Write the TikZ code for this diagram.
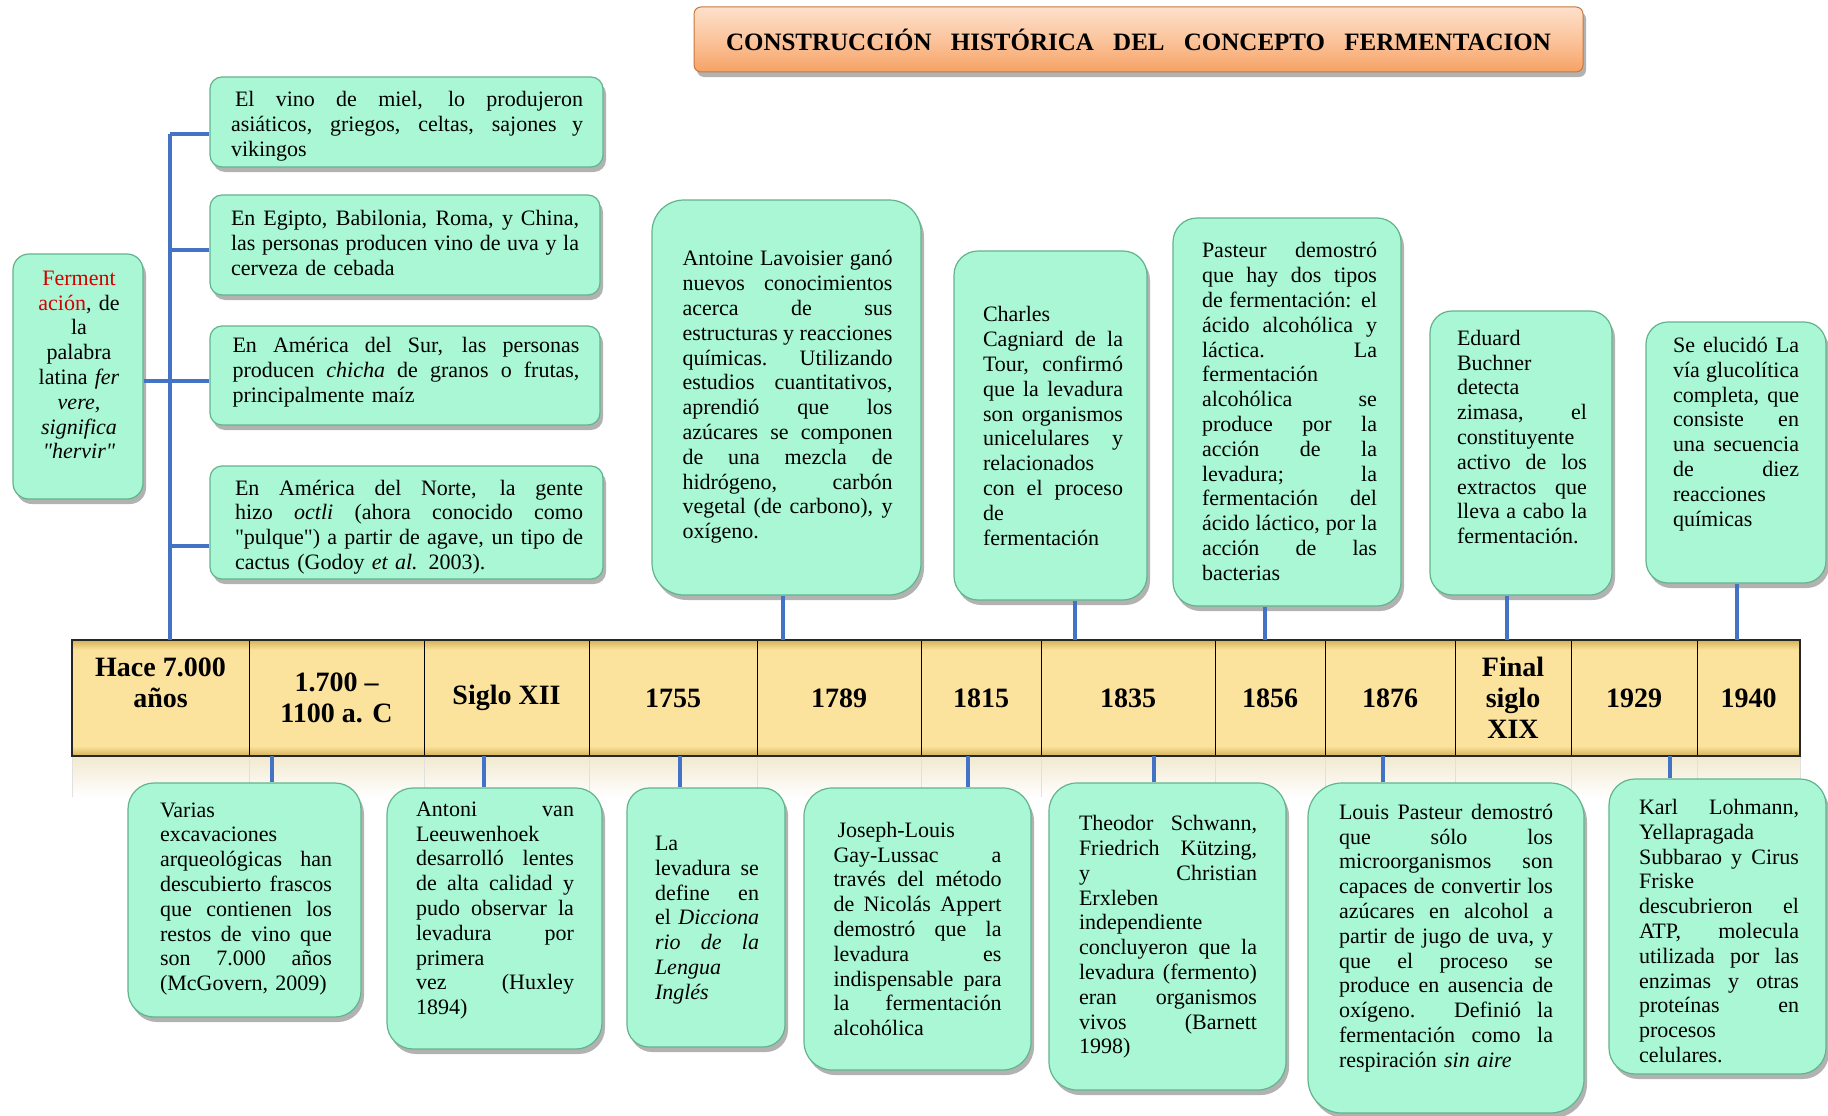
\documentclass[tikz,border=0pt]{standalone}
\usepackage{fontspec}
\setmainfont{Liberation Serif}
\usetikzlibrary{shadows}
\definecolor{mint}{HTML}{A9F7D5}
\definecolor{mintdk}{HTML}{62B48D}
\definecolor{conblue}{HTML}{4472C4}
\definecolor{gold}{HTML}{FCE39D}
\definecolor{golddk}{HTML}{D8B65E}
\definecolor{fred}{HTML}{D40000}
\definecolor{peachlt}{HTML}{FDE0CB}
\definecolor{peachmd}{HTML}{FBC49C}
\definecolor{peachdk}{HTML}{F6A264}
\definecolor{orgdk}{HTML}{C9773C}
\newlength\jw
\newcommand\J[1]{{\spaceskip=0pt\xspaceskip=0pt\makebox[\jw][s]{#1}}}
\begin{document}
\begin{tikzpicture}[x=1pt,y=-1pt,
  box/.style={draw=mintdk, line width=1.2pt, fill=mint, inner sep=0pt,
    drop shadow={shadow xshift=3pt, shadow yshift=-5pt, opacity=0.3, fill=black}},
  txt/.style={inner sep=0pt, align=left, text width=#1,
    execute at begin node={\setlength{\jw}{#1}},
    font=\fontsize{22pt}{24.8pt}\selectfont},
  conn/.style={draw=conblue, line width=4pt},
  cell/.style={draw=black, line width=1pt, inner sep=0pt, minimum height=116pt,
    align=center, font=\bfseries\fontsize{28pt}{31pt}\selectfont},
  titlebox/.style={draw=orgdk, line width=1pt, rounded corners=7pt,
    top color=peachlt, bottom color=peachdk, middle color=peachmd, inner sep=0pt,
    drop shadow={shadow xshift=3pt, shadow yshift=-5pt, opacity=0.3, fill=black}},
]
\useasboundingbox (0,0) rectangle (1828,1116);
\fill[white] (0,0) rectangle (1828,1116);

% title
\node[titlebox, minimum width=889pt, minimum height=65pt] (title) at (1138.5,39.5)
  {\bfseries\fontsize{25pt}{30pt}\selectfont\makebox[825pt][s]{CONSTRUCCIÓN HISTÓRICA DEL CONCEPTO FERMENTACION}};

% reflection under bar
\shade[top color=black!12!gold!40, bottom color=white] (72,757) rectangle (1800,797);
\foreach \xx in {72,249,424,589,757,921,1041,1215,1325,1455,1571,1697,1800}
  \draw[black!12] (\xx,757) -- (\xx,797);

% bar background
\fill[gold] (72,640) rectangle (1800,756);
\shade[top color=golddk, bottom color=gold] (72,641) rectangle (1800,650);
\shade[top color=gold, bottom color=golddk] (72,746) rectangle (1800,755);

% cells
\node[cell, minimum width=177pt] (c1) at (160.5,698) {Hace 7.000\\años\\~};
\node[cell, minimum width=175pt] (c2) at (336.5,698) {1.700 –\\1100 a. C};
\node[cell, minimum width=165pt] (c3) at (506.5,698) {Siglo XII};
\node[cell, minimum width=168pt] (c4) at (673,698) {1755};
\node[cell, minimum width=164pt] (c5) at (839,698) {1789};
\node[cell, minimum width=120pt] (c6) at (981,698) {1815};
\node[cell, minimum width=174pt] (c7) at (1128,698) {1835};
\node[cell, minimum width=110pt] (c8) at (1270,698) {1856};
\node[cell, minimum width=130pt] (c9) at (1390,698) {1876};
\node[cell, minimum width=116pt] (c10) at (1513,698) {Final\\siglo\\XIX};
\node[cell, minimum width=126pt] (c11) at (1634,698) {1929};
\node[cell, minimum width=103pt] (c12) at (1748.5,698) {1940};
\draw[black!85, line width=2.5pt] (72,640) rectangle (1800,756);

% coordinates on the bar
\coordinate (tr0) at (170,640);
\coordinate (j1) at (170,134);
\coordinate (j2) at (170,250);
\coordinate (j3) at (170,381);
\coordinate (j4) at (170,546);
\coordinate (kLav) at (783,640);
\coordinate (kCag) at (1075,640);
\coordinate (kPas) at (1265,640);
\coordinate (kBuc) at (1507,640);
\coordinate (kGlu) at (1737,640);
\coordinate (mVar) at (272,756);
\coordinate (mAnt) at (484,756);
\coordinate (mLev) at (680,756);
\coordinate (mJos) at (968,756);
\coordinate (mThe) at (1154,756);
\coordinate (mLou) at (1383,756);
\coordinate (mKar) at (1670,756);

% ---- top boxes
\node[box, rounded corners=16pt, minimum width=130pt, minimum height=245pt] (ferm) at (78,376.5) {};
\node[box, rounded corners=12pt, minimum width=393pt, minimum height=90pt] (vino) at (406.5,122) {};
\node[box, rounded corners=12pt, minimum width=390pt, minimum height=100pt] (egip) at (405,245) {};
\node[box, rounded corners=12pt, minimum width=390pt, minimum height=99pt] (sur) at (405,375.5) {};
\node[box, rounded corners=12pt, minimum width=393pt, minimum height=113pt] (norte) at (406.5,522.5) {};
\node[box, rounded corners=32pt, minimum width=269pt, minimum height=395pt] (lav) at (786.5,397.5) {};
\node[box, rounded corners=24pt, minimum width=193pt, minimum height=349pt] (cag) at (1050.5,425.5) {};
\node[box, rounded corners=24pt, minimum width=228pt, minimum height=388pt] (pas) at (1287,412) {};
\node[box, rounded corners=22pt, minimum width=182pt, minimum height=284pt] (buc) at (1521,453) {};
\node[box, rounded corners=22pt, minimum width=180pt, minimum height=261pt] (glu) at (1736,452.5) {};

% ---- bottom boxes
\node[box, rounded corners=26pt, minimum width=233pt, minimum height=234pt] (var) at (244.5,900) {};
\node[box, rounded corners=26pt, minimum width=215pt, minimum height=261pt] (ant) at (494.5,918.5) {};
\node[box, rounded corners=22pt, minimum width=158pt, minimum height=259pt] (lev) at (706,917.5) {};
\node[box, rounded corners=28pt, minimum width=227pt, minimum height=282pt] (jos) at (917.5,929) {};
\node[box, rounded corners=28pt, minimum width=237pt, minimum height=307pt] (the) at (1167.5,936.5) {};
\node[box, rounded corners=34pt, minimum width=276pt, minimum height=330pt] (lou) at (1446,948) {};
\node[box, rounded corners=26pt, minimum width=217pt, minimum height=295pt] (kar) at (1717.5,926.5) {};

% ---- connectors
\draw[conn] (tr0) -- (j1);
\draw[conn] (j1) -- (j1 -| vino.west);
\draw[conn] (j2) -- (j2 -| egip.west);
\draw[conn] (ferm.east |- j3) -- (j3) -- (j3 -| sur.west);
\draw[conn] (j4) -- (j4 -| norte.west);
\draw[conn] (kLav) -- (kLav |- lav.south);
\draw[conn] (kCag) -- (kCag |- cag.south);
\draw[conn] (kPas) -- (kPas |- pas.south);
\draw[conn] (kBuc) -- (kBuc |- buc.south);
\draw[conn] (kGlu) -- (kGlu |- glu.south);
\draw[conn] (mVar) -- (mVar |- var.north);
\draw[conn] (mAnt) -- (mAnt |- ant.north);
\draw[conn] (mLev) -- (mLev |- lev.north);
\draw[conn] (mJos) -- (mJos |- jos.north);
\draw[conn] (mThe) -- (mThe |- the.north);
\draw[conn] (mLou) -- (mLou |- lou.north);
\draw[conn] (mKar) -- (mKar |- kar.north);

% ---- texts
\node[txt=100pt, align=center] (tferm) at (79,365)
  {{\color{fred}Ferment}\\{\color{fred}ación}, de\\la\\palabra\\latina \textit{fer}\\\textit{vere,}\\\textit{significa}\\\textit{\textquotedbl hervir\textquotedbl}};
\node[txt=352pt] (tvino) at (407,126.5)
  {\J{\hspace*{4pt}El vino de miel, lo produjeron}\\\J{asiáticos, griegos, celtas, sajones y}\\vikingos};
\node[txt=348pt] (tegip) at (405,243)
  {\J{En Egipto, Babilonia, Roma, y China,}\\\J{las personas producen vino de uva y la}\\cerveza de cebada};
\node[txt=347pt] (tsur) at (406,372)
  {\J{En América del Sur, las personas}\\\J{producen \textit{chicha} de granos o frutas,}\\principalmente maíz};
\node[txt=348pt] (tnorte) at (409,527)
  {\J{En América del Norte, la gente}\\\J{hizo \textit{octli} (ahora conocido como}\\\J{\textquotedbl pulque\textquotedbl) a partir de agave, un tipo de}\\cactus (Godoy \textit{et al.} 2003).};
\node[txt=210pt] (tlav) at (787.5,397)
  {\J{Antoine Lavoisier ganó}\\\J{nuevos conocimientos}\\\J{acerca de sus}\\\J{estructuras y reacciones}\\\J{químicas. Utilizando}\\\J{estudios cuantitativos,}\\\J{aprendió que los}\\\J{azúcares se componen}\\\J{de una mezcla de}\\\J{hidrógeno, carbón}\\\J{vegetal (de carbono), y}\\oxígeno.};
\node[txt=140pt] (tcag) at (1053,426)
  {Charles\\\J{Cagniard de la}\\\J{Tour, confirmó}\\\J{que la levadura}\\\J{son organismos}\\\J{unicelulares y}\\relacionados\\\J{con el proceso}\\de\\fermentación};
\node[txt=175pt] (tpas) at (1289.5,411.5)
  {\J{Pasteur demostró}\\\J{que hay dos tipos}\\\J{de fermentación: el}\\\J{ácido alcohólica y}\\\J{láctica. La}\\fermentación\\\J{alcohólica se}\\\J{produce por la}\\\J{acción de la}\\\J{levadura; la}\\\J{fermentación del}\\\J{ácido láctico, por la}\\\J{acción de las}\\bacterias};
\node[txt=130pt] (tbuc) at (1522,437)
  {Eduard\\Buchner\\detecta\\\J{zimasa, el}\\constituyente\\\J{activo de los}\\\J{extractos que}\\\J{lleva a cabo la}\\fermentación.};
\node[txt=126pt] (tglu) at (1736,434)
  {\J{Se elucidó La}\\\J{vía glucolítica}\\\J{completa, que}\\\J{consiste en}\\\J{una secuencia}\\\J{de diez}\\reacciones\\químicas};
\node[txt=172pt] (tvar) at (246,899)
  {Varias\\excavaciones\\\J{arqueológicas han}\\\J{descubierto frascos}\\\J{que contienen los}\\\J{restos de vino que}\\\J{son 7.000 años}\\(McGovern, 2009)};
\node[txt=158pt] (tant) at (495,910.5)
  {\J{Antoni van}\\Leeuwenhoek\\\J{desarrolló lentes}\\\J{de alta calidad y}\\\J{pudo observar la}\\\J{levadura por}\\primera\\\J{vez (Huxley}\\1894)};
\node[txt=104pt] (tlev) at (707,920)
  {La\\\J{levadura se}\\\J{define en}\\\J{el \textit{Dicciona}}\\\J{\textit{rio de la}}\\\textit{Lengua}\\\textit{Inglés}};
\node[txt=168pt] (tjos) at (917.5,929)
  {\hspace*{4pt}Joseph-Louis\\\J{Gay-Lussac a}\\\J{través del método}\\\J{de Nicolás Appert}\\\J{demostró que la}\\\J{levadura es}\\\J{indispensable para}\\\J{la fermentación}\\alcohólica};
\node[txt=178pt] (tthe) at (1168,937)
  {\J{Theodor Schwann,}\\\J{Friedrich Kützing,}\\\J{y Christian}\\Erxleben\\independiente\\\J{concluyeron que la}\\\J{levadura (fermento)}\\\J{eran organismos}\\\J{vivos (Barnett}\\1998)};
\node[txt=214pt] (tlou) at (1446,938)
  {\J{Louis Pasteur demostró}\\\J{que sólo los}\\\J{microorganismos son}\\\J{capaces de convertir los}\\\J{azúcares en alcohol a}\\\J{partir de jugo de uva, y}\\\J{que el proceso se}\\\J{produce en ausencia de}\\\J{oxígeno. Definió la}\\\J{fermentación como la}\\respiración \textit{sin aire}};
\node[txt=160pt] (tkar) at (1719,931)
  {\J{Karl Lohmann,}\\Yellapragada\\\J{Subbarao y Cirus}\\Friske\\\J{descubrieron el}\\\J{ATP, molecula}\\\J{utilizada por las}\\\J{enzimas y otras}\\\J{proteínas en}\\procesos\\celulares.};
\end{tikzpicture}
\end{document}
